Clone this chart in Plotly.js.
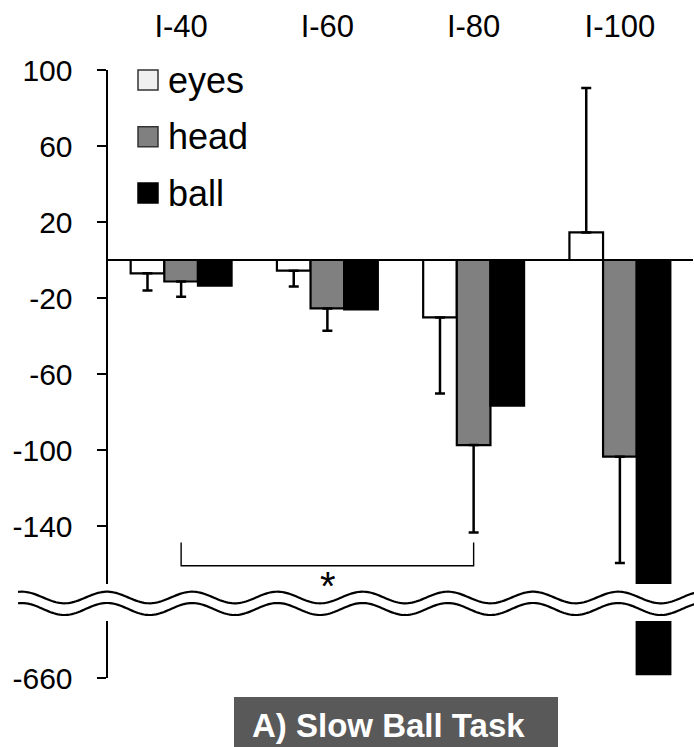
<!DOCTYPE html>
<html>
<head>
<meta charset="utf-8">
<script src="https://cdn.plot.ly/plotly-3.0.1.min.js"></script>
<style>html,body{margin:0;padding:0;background:#fff}#chart{width:694px;height:747px}</style>
</head>
<body>
<div id="chart"></div>
<script>
// ---- data ----
const categories = ['I-40', 'I-60', 'I-80', 'I-100'];
const seriesNames = ['eyes', 'head', 'ball'];
const eyesValues = [-7, -5.6, -30.2, 14.5];
const eyesErr = [9, 8.3, 40, 76];
const headValues = [-11.3, -25.5, -97.4, -103.5];
const headErr = [8, 11.7, 46, 56];
const ballValues = [-13.5, -26, -76.6, -658];
const upperTicks = [100, 60, 20, -20, -60, -100, -140];
const lowerTicks = [-660];
const sigPair = ['I-40', 'I-80'];   // significance bracket between these categories
const sigLevels = [-148.6, -160.9]; // bracket end tip, bracket bar
const sigLabel = '*';
const titleText = 'A) Slow Ball Task';

// ---- geometry helpers (layout only) ----
const W = 694, H = 747, L = 108, R = 1, T = 70, B = 69;
const plotW = W - L - R, plotH = H - T - B;
const px = x => (x - L) / plotW;
const py = y => (H - B - y) / plotH;

const FONT = 'Liberation Sans, Arial, sans-serif';
const fills = {eyes: '#ffffff', head: '#808080', ball: '#000000'};
const legendFills = {eyes: '#f0f0f0', head: '#808080', ball: '#000000'};
const valuesBy = {eyes: eyesValues, head: headValues, ball: ballValues};
const errBy = {eyes: eyesErr, head: headErr, ball: null};

const traces = [];
['x', 'x2'].forEach((xa, k) => {
  seriesNames.forEach(name => {
    const vals = valuesBy[name];
    const t = {
      type: 'bar', name: name, x: categories, y: vals,
      xaxis: xa, yaxis: k === 0 ? 'y' : 'y2',
      marker: {color: fills[name], line: {color: '#000', width: 2.2}},
      showlegend: false, hoverinfo: 'skip'
    };
    const e = errBy[name];
    if (e && k === 0) {
      t.error_y = {
        type: 'data', symmetric: false,
        array: e.map((v, i) => vals[i] >= 0 ? v : 0),
        arrayminus: e.map((v, i) => vals[i] < 0 ? v : 0),
        color: '#000', thickness: 2.5, width: 5
      };
    }
    traces.push(t);
  });
});

// ---- shapes ----
const shapes = [];
// significance bracket
const i0 = categories.indexOf(sigPair[0]), i1 = categories.indexOf(sigPair[1]);
shapes.push({type: 'path', xref: 'x', yref: 'y', layer: 'above',
  path: `M${i0},${sigLevels[0]} L${i0},${sigLevels[1]} L${i1},${sigLevels[1]} L${i1},${sigLevels[0]}`,
  line: {color: '#000', width: 1.4}});
// axis break wavy lines
function wave(yc, amp) {
  let d = '';
  for (let x = 18; x <= 700; x += 2) {
    const y = yc - amp * Math.cos(2 * Math.PI * (x - 107) / 85.2);
    d += (d ? ' L' : 'M') + px(x).toFixed(5) + ',' + py(y).toFixed(5);
  }
  return d;
}
shapes.push({type: 'path', xref: 'paper', yref: 'paper', layer: 'above', path: wave(597.5, 5.8), line: {color: '#000', width: 2.2}});
shapes.push({type: 'path', xref: 'paper', yref: 'paper', layer: 'above', path: wave(609, 6), line: {color: '#000', width: 2.2}});
// title box
shapes.push({type: 'rect', xref: 'paper', yref: 'paper', layer: 'above',
  x0: px(234), x1: px(558), y0: py(697), y1: py(760), fillcolor: '#595959', line: {width: 0}});
// manual legend swatches
const legendRows = [80, 136.7, 193];
seriesNames.forEach((n, i) => {
  shapes.push({type: 'rect', xref: 'paper', yref: 'paper', layer: 'above',
    x0: px(138), x1: px(158), y0: py(legendRows[i] + 10), y1: py(legendRows[i] - 10),
    fillcolor: legendFills[n], line: {color: n === 'ball' ? '#000' : '#333', width: 1.5}});
});

const annotations = [];
seriesNames.forEach((n, i) => {
  annotations.push({xref: 'paper', yref: 'paper', x: px(166), y: py(legendRows[i]),
    xanchor: 'left', yanchor: 'middle', showarrow: false, text: n,
    font: {family: FONT, size: 36, color: '#000'}});
});
annotations.push({xref: 'paper', yref: 'paper', x: px(327.5), y: py(586), xanchor: 'center', yanchor: 'middle',
  showarrow: false, text: sigLabel, font: {family: FONT, size: 40, color: '#000'}});
annotations.push({xref: 'paper', yref: 'paper', x: px(388.5), y: py(725), xanchor: 'center', yanchor: 'middle',
  showarrow: false, text: '<b>' + titleText + '</b>', font: {family: FONT, size: 33, color: '#fff'}});

const upperBottom = py(584), lowerTop = py(621);
const layout = {
  width: W, height: H,
  margin: {l: L, r: R, t: T, b: B, pad: 0},
  paper_bgcolor: '#fff', plot_bgcolor: 'rgba(0,0,0,0)',
  font: {family: FONT, color: '#000'},
  barmode: 'group', bargap: 0.31, bargroupgap: 0,
  showlegend: false,
  xaxis: {type: 'category', categoryarray: categories, range: [-0.5, 3.5], anchor: 'y', side: 'top',
    showline: false, ticks: '', showgrid: false, zeroline: false,
    tickfont: {family: FONT, size: 31, color: '#000'}, ticklabelstandoff: 26},
  xaxis2: {type: 'category', categoryarray: categories, range: [-0.5, 3.5], anchor: 'y2', matches: 'x',
    showline: false, ticks: '', showgrid: false, zeroline: false, showticklabels: false},
  yaxis: {domain: [upperBottom, 1], range: [-170.5, 100], anchor: 'x', tickmode: 'array', tickvals: upperTicks,
    ticktext: upperTicks.map(String), ticks: 'outside', ticklen: 9, tickwidth: 2.5, tickcolor: '#000',
    showline: true, linewidth: 2.5, linecolor: '#000', showgrid: false,
    zeroline: true, zerolinecolor: '#000', zerolinewidth: 2.2,
    tickfont: {family: FONT, size: 30, color: '#000'}, ticklabelstandoff: 18},
  yaxis2: {domain: [0, lowerTop], range: [-660, -630], anchor: 'x2', tickmode: 'array', tickvals: lowerTicks,
    ticktext: lowerTicks.map(String), ticks: 'outside', ticklen: 9, tickwidth: 2.5, tickcolor: '#000',
    showline: true, linewidth: 2.5, linecolor: '#000', showgrid: false, zeroline: false,
    tickfont: {family: FONT, size: 30, color: '#000'}, ticklabelstandoff: 18},
  shapes: shapes,
  annotations: annotations
};

Plotly.newPlot('chart', traces, layout, {displayModeBar: false, staticPlot: true});
</script>
</body>
</html>
